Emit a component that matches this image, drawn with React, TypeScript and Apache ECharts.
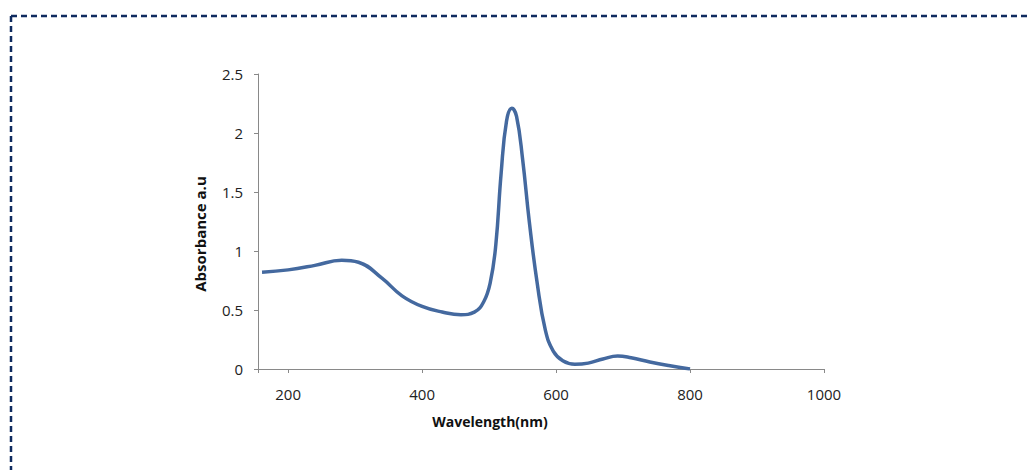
import React, { useEffect, useRef } from "react";
import * as echarts from "echarts";

const wavelengths = [161, 200, 240, 280, 305, 340, 370, 400, 430, 458, 478, 492, 502, 510, 518, 526, 534, 541, 550, 560, 572, 584, 596, 610, 628, 648, 670, 692, 712, 740, 768, 800];
const absorbance = [0.82, 0.84, 0.878, 0.922, 0.905, 0.77, 0.62, 0.53, 0.483, 0.46, 0.482, 0.57, 0.74, 1.05, 1.66, 2.1, 2.21, 2.14, 1.78, 1.25, 0.72, 0.33, 0.15, 0.07, 0.04, 0.05, 0.085, 0.11, 0.095, 0.06, 0.03, 0.0];
const xTickLabels = [200, 400, 600, 800, 1000];
const xTicks = [155, 200, 400, 600, 800, 1000];
const xAxisTitle = "Wavelength(nm)";
const yAxisTitle = "Absorbance a.u";

export default function App() {
  const ref = useRef<HTMLDivElement>(null);
  useEffect(() => {
    document.body.style.margin = "0";
    const chart = echarts.init(ref.current!, null, { renderer: "svg" });
    const axisColor = "#898989";
    const font = "'Open Sans', sans-serif";
    chart.setOption({
      animation: false,
      backgroundColor: "#ffffff",
      grid: { left: 258, top: 74, right: 205, bottom: 101 },
      xAxis: {
        type: "value",
        min: 155,
        max: 1000,
        axisLine: { show: true, lineStyle: { color: axisColor, width: 1 } },
        axisTick: { show: true, length: 4, customValues: xTicks, lineStyle: { color: axisColor } },
        axisLabel: { customValues: xTickLabels, margin: 17, fontSize: 15, color: "#222", fontFamily: font, formatter: (v: number) => String(v) },
        splitLine: { show: false },
      },
      yAxis: {
        type: "value",
        min: 0,
        max: 2.5,
        interval: 0.5,
        axisLine: { show: true, lineStyle: { color: axisColor, width: 1 } },
        axisTick: { show: true, length: 4, lineStyle: { color: axisColor } },
        axisLabel: { margin: 15, fontSize: 15, color: "#222", fontFamily: font },
        splitLine: { show: false },
      },
      series: [
        {
          type: "line",
          data: wavelengths.map((w, i) => [w, absorbance[i]]),
          smooth: 0.45,
          showSymbol: false,
          lineStyle: { color: "#44699f", width: 3.5 },
        },
      ],
      graphic: [
        { type: "line", shape: { x1: 11, y1: 16, x2: 1029, y2: 16 }, style: { stroke: "#0f2b5f", lineWidth: 2.5, lineDash: [6, 4] } },
        { type: "line", shape: { x1: 11, y1: 16, x2: 11, y2: 470 }, style: { stroke: "#0f2b5f", lineWidth: 2.5, lineDash: [6, 4] } },
        {
          type: "text",
          x: 490,
          y: 421,
          style: { text: xAxisTitle, fontSize: 14, fontWeight: "bold", fontFamily: font, fill: "#111", align: "center", verticalAlign: "middle" },
        },
        {
          type: "text",
          x: 200,
          y: 234,
          rotation: Math.PI / 2,
          style: { text: yAxisTitle, fontSize: 15, fontWeight: "bold", fontFamily: font, fill: "#111", align: "center", verticalAlign: "middle" },
        },
      ],
    });
    return () => chart.dispose();
  }, []);
  return <div ref={ref} style={{ width: 1029, height: 470 }} />;
}
